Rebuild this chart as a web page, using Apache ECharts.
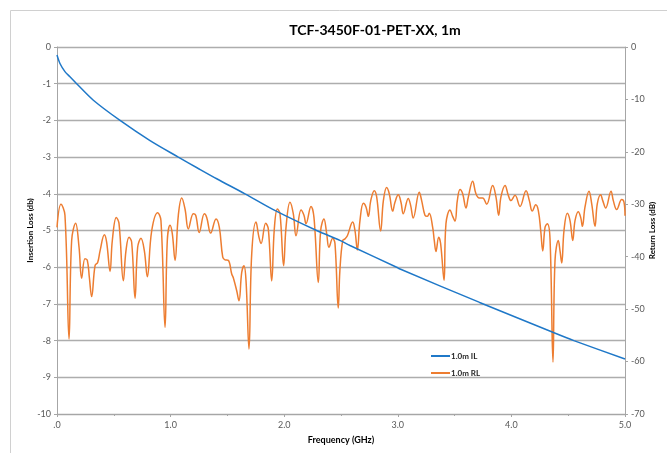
<!DOCTYPE html>
<html>
<head>
<meta charset="utf-8">
<script src="https://cdn.jsdelivr.net/npm/echarts@6/dist/echarts.min.js"></script>
<style>
html,body{margin:0;padding:0;background:#fff;}
#chart{width:667px;height:453px;}
</style>
</head>
<body>
<div id="chart"></div>
<script>
// Insertion loss (left axis, dB)
const ilFreq = [0.0, 0.026, 0.07, 0.114, 0.173, 0.32, 0.555, 0.819, 1.068, 1.244, 1.406, 1.655, 1.904, 2.286, 2.49, 2.579, 2.99, 3.02, 3.72, 4.37, 4.55, 5.0];
const ilDb   = [-0.22, -0.45, -0.67, -0.81, -1.0, -1.45, -2.0, -2.55, -3.0, -3.31, -3.59, -4.0, -4.43, -5.0, -5.27, -5.41, -6.0, -6.05, -6.96, -7.78, -8.0, -8.5];

// Return loss (right axis, dB)
const rlFreq = [0.00,0.035,0.07,0.106,0.129,0.164,0.194,0.217,0.246,0.267,0.285,0.305,0.335,0.358,0.379,0.417,0.437,0.467,0.487,0.522,0.546,0.584,0.607,0.634,0.657,0.687,0.710,0.739,0.769,0.795,0.834,0.886,0.915,0.951,0.971,0.995,1.015,1.039,1.068,1.098,1.127,1.156,1.200,1.221,1.252,1.297,1.318,1.353,1.400,1.429,1.459,1.479,1.508,1.538,1.552,1.582,1.602,1.626,1.646,1.664,1.690,1.714,1.752,1.778,1.796,1.837,1.860,1.890,1.913,1.940,1.963,1.995,2.016,2.051,2.080,2.104,2.148,2.174,2.192,2.236,2.262,2.300,2.321,2.350,2.374,2.394,2.427,2.447,2.476,2.490,2.515,2.535,2.556,2.603,2.623,2.644,2.667,2.697,2.720,2.741,2.762,2.793,2.814,2.849,2.873,2.902,2.925,2.955,2.975,3.004,3.028,3.048,3.092,3.113,3.136,3.189,3.210,3.239,3.260,3.277,3.307,3.321,3.336,3.360,3.377,3.407,3.424,3.460,3.483,3.504,3.524,3.548,3.571,3.600,3.621,3.659,3.688,3.717,3.747,3.782,3.835,3.864,3.888,3.908,3.944,3.973,3.996,4.032,4.076,4.129,4.158,4.184,4.214,4.237,4.258,4.276,4.296,4.316,4.340,4.366,4.384,4.413,4.428,4.443,4.463,4.492,4.516,4.540,4.560,4.589,4.610,4.625,4.648,4.683,4.707,4.736,4.756,4.786,4.804,4.830,4.877,4.897,4.927,4.971,4.991,5.000];
const rlDb = [-34.4,-30.0,-32.1,-55.7,-36.9,-33.6,-38.2,-44.1,-40.4,-40.7,-44.0,-47.6,-41.7,-41.1,-38.9,-35.8,-37.2,-42.8,-36.9,-32.5,-33.7,-44.6,-38.9,-36.3,-37.2,-47.9,-38.2,-36.5,-38.9,-43.8,-35.0,-31.6,-33.1,-53.5,-36.9,-34.0,-35.6,-40.7,-32.1,-28.8,-30.9,-34.7,-31.8,-32.1,-35.4,-31.8,-32.5,-35.5,-32.8,-34.4,-40.1,-40.6,-40.7,-43.3,-44.0,-46.5,-48.4,-43.0,-41.7,-44.6,-57.6,-39.5,-33.4,-36.3,-37.5,-33.6,-34.7,-44.6,-34.7,-30.9,-31.8,-41.7,-34.4,-29.6,-31.8,-36.0,-31.1,-32.1,-33.7,-30.4,-32.5,-44.9,-35.0,-32.8,-35.6,-38.2,-36.5,-37.5,-49.8,-42.7,-36.9,-36.6,-36.0,-33.4,-35.0,-38.7,-33.1,-29.8,-30.5,-32.3,-29.3,-27.4,-28.6,-35.1,-29.3,-26.8,-28.0,-31.3,-29.6,-28.2,-29.6,-31.8,-28.9,-30.2,-32.6,-27.7,-29.3,-32.1,-32.3,-31.7,-34.4,-36.9,-39.0,-36.3,-37.5,-44.5,-33.7,-31.1,-32.3,-33.2,-29.3,-27.2,-28.0,-30.7,-28.6,-25.6,-28.0,-28.8,-28.8,-30.0,-26.4,-28.6,-32.1,-28.6,-26.4,-28.3,-29.3,-28.3,-30.4,-27.4,-29.3,-31.3,-30.1,-31.2,-35.0,-38.9,-34.4,-33.7,-36.6,-60.1,-40.7,-36.9,-38.9,-41.2,-35.0,-31.7,-33.1,-36.9,-33.1,-31.4,-32.5,-34.2,-30.5,-27.5,-29.9,-34.2,-29.9,-28.2,-29.3,-30.7,-27.5,-29.3,-31.0,-29.1,-29.6,-32.2];

const seriesNames = ['1.0m IL', '1.0m RL'];
const chartTitle = 'TCF-3450F-01-PET-XX, 1m';

const ilData = ilFreq.map((f, i) => [f, ilDb[i]]);
const rlData = rlFreq.map((f, i) => [f, rlDb[i]]);

const FONT = 'Lato, "Open Sans", sans-serif';
const axisColor = '#a6a6a6';
const labelColor = '#595959';

const chart = echarts.init(document.getElementById('chart'), null, {renderer: 'canvas'});
chart.setOption({
  animation: false,
  backgroundColor: '#ffffff',
  textStyle: {fontFamily: FONT},
  graphic: [{
    type: 'rect', silent: true, z: -1,
    shape: {x: 10.5, y: 10.5, width: 700, height: 500},
    style: {fill: 'none', stroke: '#d0d0d0', lineWidth: 1}
  }],
  title: {
    text: chartTitle,
    left: 370, top: 18, textAlign: 'center',
    textStyle: {fontFamily: FONT, fontWeight: 'bold', fontSize: 14, color: '#000000'}
  },
  legend: {
    data: seriesNames,
    orient: 'vertical',
    left: 426, top: 347,
    itemWidth: 19, itemHeight: 2, itemGap: 9,
    icon: 'rect',
    textStyle: {fontFamily: FONT, fontSize: 8, fontWeight: 'bold', color: '#262626', padding: [0,0,0,-4]}
  },
  grid: {left: 57, right: 42, top: 47, bottom: 39, containLabel: false, outerBoundsMode: 'none'},
  xAxis: {
    type: 'value', min: 0, max: 5, interval: 1,
    name: 'Frequency (GHz)', nameLocation: 'middle', nameGap: 22, nameMoveOverlap: false,
    nameTextStyle: {fontFamily: FONT, fontWeight: 'bold', fontSize: 9, color: '#000'},
    axisLine: {show: true, onZero: false, lineStyle: {color: axisColor, width: 1}},
    axisTick: {show: true, length: 3, lineStyle: {color: axisColor}},
    minorTick: {show: true, splitNumber: 2, length: 2, lineStyle: {color: axisColor}},
    axisLabel: {fontSize: 9, color: labelColor, margin: 7,
      formatter: v => v === 0 ? '.0' : v.toFixed(1)},
    splitLine: {show: false}
  },
  yAxis: [{
    type: 'value', min: -10, max: 0, interval: 1,
    name: 'Insertion Loss (db)', nameLocation: 'middle', nameGap: 23, nameMoveOverlap: false,
    nameTextStyle: {fontFamily: FONT, fontWeight: 'bold', fontSize: 8, color: '#000'},
    axisLine: {show: true, lineStyle: {color: axisColor}},
    axisTick: {show: true, length: 3, lineStyle: {color: axisColor}},
    axisLabel: {fontSize: 9, color: labelColor, margin: 6},
    splitLine: {show: true, lineStyle: {color: '#adadad', width: 1.3}}
  }, {
    type: 'value', min: -70, max: 0, interval: 10,
    name: 'Return Loss (dB)', nameLocation: 'middle', nameGap: 23, nameMoveOverlap: false,
    nameTextStyle: {fontFamily: FONT, fontWeight: 'bold', fontSize: 8, color: '#000'},
    axisLine: {show: true, lineStyle: {color: axisColor}},
    axisTick: {show: true, length: 3, lineStyle: {color: axisColor}},
    axisLabel: {fontSize: 9, color: labelColor, margin: 6},
    splitLine: {show: false}
  }],
  series: [{
    name: seriesNames[0], type: 'line', yAxisIndex: 0,
    data: ilData, showSymbol: false, smooth: 0.3,
    lineStyle: {color: '#1f78c8', width: 1.5},
    itemStyle: {color: '#1f78c8'}, z: 3
  }, {
    name: seriesNames[1], type: 'line', yAxisIndex: 1,
    data: rlData, showSymbol: false, smooth: 0.4,
    lineStyle: {color: '#ed7d31', width: 1.5},
    itemStyle: {color: '#ed7d31'}, z: 2
  }]
});
</script>
</body>
</html>
